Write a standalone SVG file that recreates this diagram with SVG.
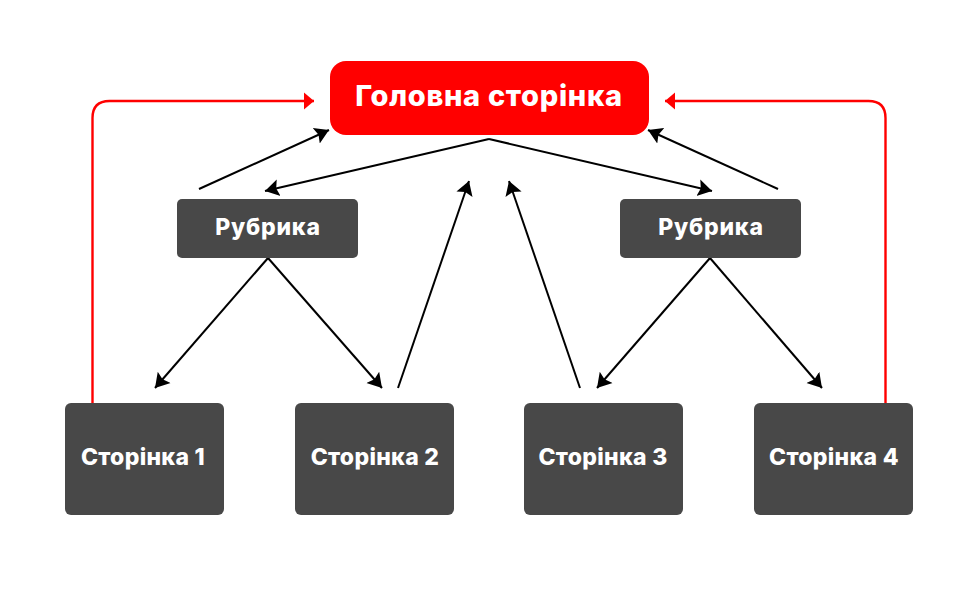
<svg xmlns="http://www.w3.org/2000/svg" width="978" height="609" viewBox="0 0 978 609">
<style>
.box{fill:#484848}
.t{font-family:"Inter","Noto Sans","Liberation Sans",sans-serif;font-weight:800;fill:#fff;text-anchor:middle}
.s{font-size:23px;letter-spacing:.3px}
.b{font-size:23px;letter-spacing:.8px}
.m{font-size:29px;letter-spacing:.7px}
.k{fill:none;stroke:#000;stroke-width:2;marker-end:url(#ak)}
.r{fill:none;stroke:#f00;stroke-width:2.4;marker-end:url(#ar)}
</style>
<defs>
<marker id="ak" markerUnits="userSpaceOnUse" markerWidth="16" markerHeight="20" refX="14" refY="10" orient="auto"><path d="M0 1.500L14 10L0 18.500L2.500 10Z" fill="#000"/></marker>
<marker id="ar" markerUnits="userSpaceOnUse" markerWidth="16" markerHeight="20" refX="10" refY="10" orient="auto"><path d="M0 1.500L10 10L0 18.500Z" fill="#f00"/></marker>
</defs>
<rect width="978" height="609" fill="#fff"/>
<g id="connectors">
<path class="r" d="M92.500 404V118Q92.500 101 109.500 101H314"/>
<path class="r" d="M885.500 404V118Q885.500 101 868.500 101H665"/>
<path class="k" d="M199 189L329 130"/>
<path class="k" d="M778 189L648 130"/>
<path class="k" d="M489 139L265 191"/>
<path class="k" d="M489 139L712 191"/>
<path class="k" d="M268 258L155 388"/>
<path class="k" d="M268 258L382 388"/>
<path class="k" d="M710 258L597 388"/>
<path class="k" d="M710 258L822 388"/>
<path class="k" d="M398 388L469 181"/>
<path class="k" d="M580 388L509 181"/>
</g>
<g id="home"><rect x="330" y="61" width="319" height="74" rx="16" fill="#f00"/><text class="t m" x="489" y="106">Головна сторінка</text></g>
<g id="rubric-1"><rect class="box" x="177" y="199" width="181" height="59" rx="5"/><text class="t b" x="268" y="235">Рубрика</text></g>
<g id="rubric-2"><rect class="box" x="620" y="199" width="181" height="59" rx="5"/><text class="t b" x="711" y="235">Рубрика</text></g>
<g id="page-1"><rect class="box" x="65" y="403" width="159" height="112" rx="6"/><text class="t s" x="143" y="465">Сторінка 1</text></g>
<g id="page-2"><rect class="box" x="295" y="403" width="159" height="112" rx="6"/><text class="t s" x="375" y="465">Сторінка 2</text></g>
<g id="page-3"><rect class="box" x="524" y="403" width="159" height="112" rx="6"/><text class="t s" x="603" y="465">Сторінка 3</text></g>
<g id="page-4"><rect class="box" x="754" y="403" width="159" height="112" rx="6"/><text class="t s" x="834" y="465">Сторінка 4</text></g>
</svg>
